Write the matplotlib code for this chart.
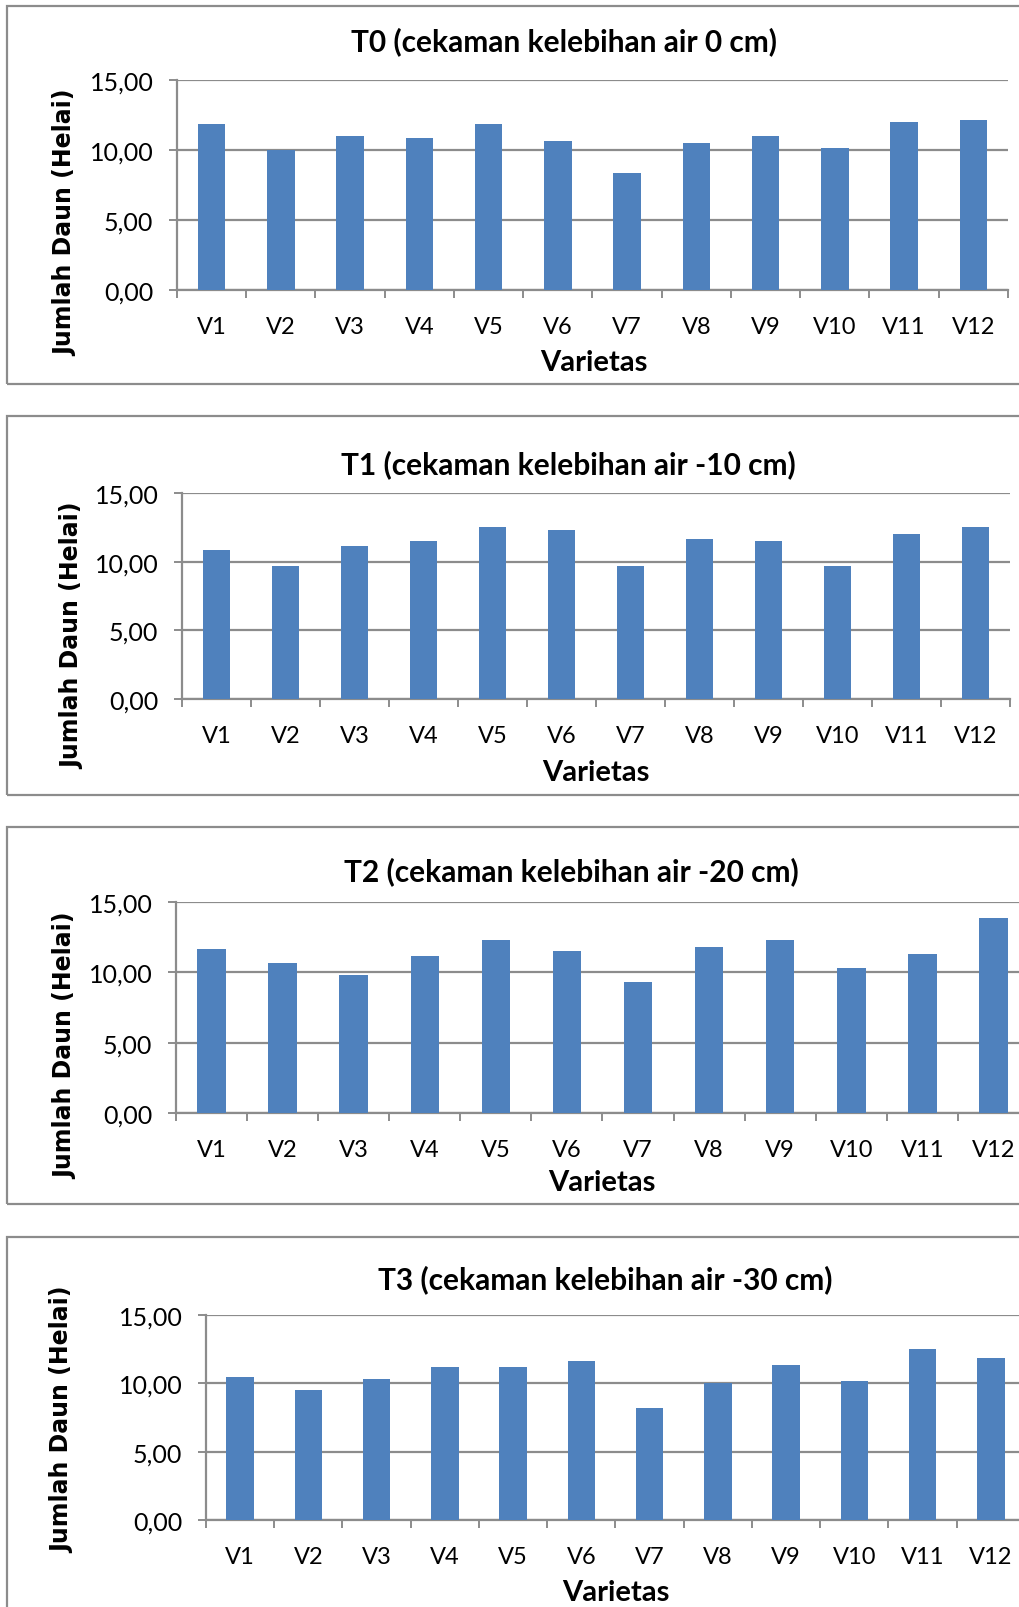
import matplotlib
matplotlib.use("Agg")
import matplotlib.pyplot as plt
from matplotlib.patches import Rectangle
from matplotlib.ticker import FixedLocator, FuncFormatter

varietas = ["V1", "V2", "V3", "V4", "V5", "V6", "V7", "V8", "V9", "V10", "V11", "V12"]
t0 = [11.83, 10.00, 11.00, 10.83, 11.83, 10.67, 8.33, 10.50, 11.00, 10.17, 12.00, 12.17]
t1 = [10.83, 9.67, 11.17, 11.50, 12.50, 12.33, 9.67, 11.67, 11.50, 9.67, 12.00, 12.50]
t2 = [11.67, 10.67, 9.83, 11.17, 12.33, 11.50, 9.33, 11.83, 12.33, 10.33, 11.33, 13.83]
t3 = [10.50, 9.50, 10.33, 11.17, 11.17, 11.67, 8.17, 10.00, 11.33, 10.17, 12.50, 11.83]
titles = ["T0 (cekaman kelebihan air 0 cm)",
          "T1 (cekaman kelebihan air -10 cm)",
          "T2 (cekaman kelebihan air -20 cm)",
          "T3 (cekaman kelebihan air -30 cm)"]
series = [t0, t1, t2, t3]
y_ticks = [0, 5, 10, 15]
ylabel = "Jumlah Daun (Helai)"
xlabel = "Varietas"

W, H = 1020, 1608
fig = plt.figure(figsize=(W / 100, H / 100), dpi=100)
fig.patch.set_facecolor("white")

GRAY = "#8c8c8c"
BAR = "#4F81BD"
FONT = ["Lato", "DejaVu Sans"]

# (box_top, box_bottom, ax_left, ax_right, ax_top, ax_bottom,
#  title_x, title_y, xlab_x, xlab_y, ylab_x, ylab_y)
layouts = [
    (7, 385, 177, 1008, 81, 291, 564, 42, 594, 363, 65, 223),
    (417, 796, 182, 1010, 494, 700, 568, 465, 596, 773, 72, 636),
    (828, 1205, 176, 1029, 903, 1114, 571, 872, 602, 1183, 65, 1046),
    (1238, 1640, 206, 1025, 1316, 1521, 605, 1280, 616, 1593, 62, 1420),
]

def fx(px):
    return px / W

def fy(py):
    return 1 - py / H

for vals, title, lay in zip(series, titles, layouts):
    (bt, bb, al, ar, at, ab, tx, ty, xx, xy, yx, yy) = lay
    fig.patches.append(Rectangle((fx(7), fy(bb)), fx(1200) - fx(7), fy(bt) - fy(bb),
                                 transform=fig.transFigure, facecolor="none",
                                 edgecolor=GRAY, linewidth=1.6, zorder=0))
    ax = fig.add_axes([fx(al), fy(ab), fx(ar) - fx(al), fy(at) - fy(ab)])
    ax.set_facecolor("none")
    x = list(range(len(varietas)))
    ax.bar(x, vals, width=0.4, color=BAR, zorder=3)
    ax.set_xlim(-0.5, len(varietas) - 0.5)
    ax.set_ylim(0, 15)
    ax.yaxis.set_major_locator(FixedLocator(y_ticks))
    ax.yaxis.set_major_formatter(FuncFormatter(lambda v, p: f"{v:.2f}".replace(".", ",")))
    ax.set_xticks(x)
    ax.set_xticklabels(varietas)
    ax.set_xticks([i - 0.5 for i in range(len(varietas) + 1)], minor=True)
    ax.tick_params(axis="x", which="major", length=0, pad=19, labelsize=17, labelcolor="black")
    ax.tick_params(axis="x", which="minor", length=6, width=1.4, color=GRAY, direction="out")
    ax.tick_params(axis="y", which="major", length=6, width=1.4, color=GRAY, pad=11,
                   labelsize=18)
    for lab in ax.get_xticklabels() + ax.get_yticklabels():
        lab.set_family(FONT)
    ax.grid(axis="y", color=GRAY, linewidth=1.6, zorder=1)
    ax.set_axisbelow(True)
    for s in ["top", "right"]:
        ax.spines[s].set_visible(False)
    for s in ["left", "bottom"]:
        ax.spines[s].set_color(GRAY)
        ax.spines[s].set_linewidth(1.6)
    fig.text(fx(tx), fy(ty), title, ha="center", va="center", fontsize=21.5,
             fontweight="bold", family=FONT)
    fig.text(fx(xx), fy(xy), xlabel, ha="center", va="center", fontsize=21,
             fontweight="bold", family=FONT)
    fig.text(fx(yx), fy(yy), ylabel, ha="center", va="center", rotation=90,
             fontsize=17, fontweight="bold", family=["DejaVu Sans"])

fig.savefig("out.png", dpi=100)
